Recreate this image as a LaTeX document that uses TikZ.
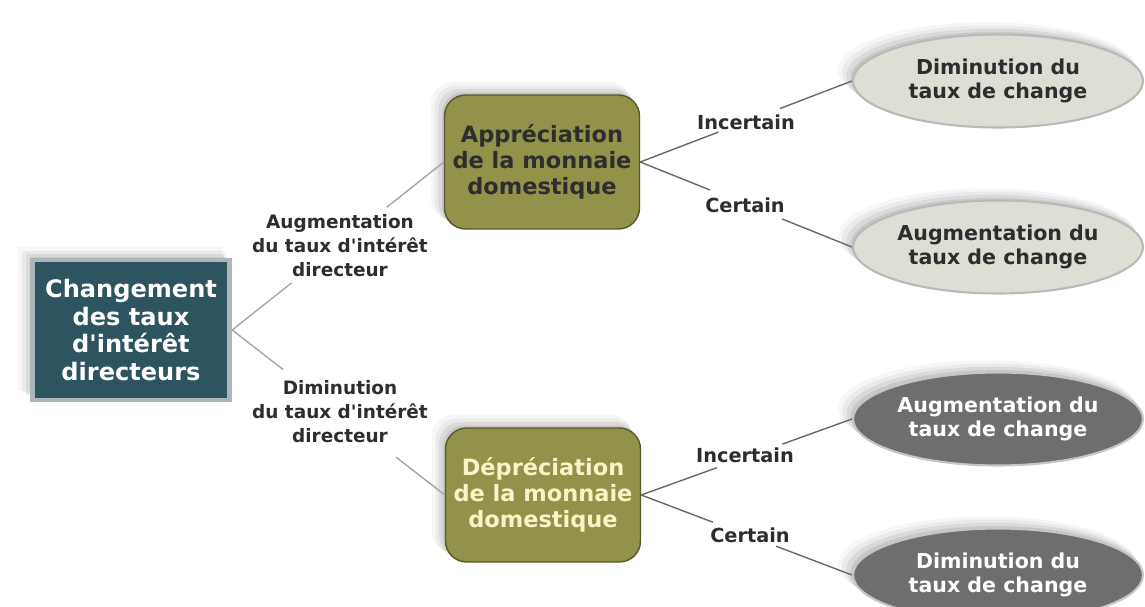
\documentclass[tikz,border=0pt]{standalone}
\usepackage{fontspec}
\setmainfont{DejaVu Sans}
\usepackage{tikz}
\usetikzlibrary{shapes}
\usetikzlibrary{calc}
\usetikzlibrary{shadows}

\definecolor{tealbox}{RGB}{46,84,96}
\definecolor{tealrim}{RGB}{170,184,190}
\definecolor{olivebox}{RGB}{146,146,74}
\definecolor{olivedk}{RGB}{88,88,40}
\definecolor{cream}{RGB}{248,244,200}
\definecolor{pale}{RGB}{222,223,212}
\definecolor{dkgray}{RGB}{110,110,110}
\definecolor{lnkgray}{RGB}{105,105,105}
\definecolor{lblgray}{RGB}{45,45,45}

\tikzstyle{shd}=[drop shadow={shadow xshift=-1.5pt,shadow yshift=1.5pt,opacity=.2},
                 drop shadow={shadow xshift=-3pt,shadow yshift=3pt,opacity=.15,shadow scale=1.01},
                 drop shadow={shadow xshift=-4.5pt,shadow yshift=4.5pt,opacity=.1,shadow scale=1.02},
                 drop shadow={shadow xshift=-6pt,shadow yshift=6pt,opacity=.07,shadow scale=1.03}]
\tikzstyle{rootbox}=[rectangle,draw=tealrim,line width=2.8pt,fill=tealbox,text=white,align=center,minimum width=3.95cm,minimum height=2.8cm,inner sep=0pt,font=\fontsize{13.7}{15.6}\selectfont\bfseries,shd]
\tikzstyle{mbox}=[rectangle,rounded corners=12pt,draw=olivedk,thick,fill=olivebox,align=center,minimum width=3.9cm,minimum height=2.68cm,inner sep=0pt,font=\fontsize{12.8}{14.8}\selectfont\bfseries,shd]
\tikzstyle{res}=[ellipse,line width=1.2pt,align=center,minimum width=5.8cm,minimum height=1.86cm,inner sep=0pt,font=\fontsize{11.7}{14}\selectfont\bfseries,shd]
\tikzstyle{lbl}=[align=center,text=lblgray,inner sep=0pt,font=\fontsize{10.5}{13.6}\selectfont\bfseries]
\tikzstyle{brl}=[lbl,font=\fontsize{11}{13.6}\selectfont\bfseries]
\tikzstyle{lnk}=[draw=lnkgray,line width=.8pt]

\begin{document}
\begin{tikzpicture}[x=0.02cm,y=-0.02cm]
\useasboundingbox (0,0) rectangle (1145,607);

%root
\node[rootbox] (root) at (131,330) {Changement\\des taux\\d\textquotesingle intérêt\\directeurs};

%middle boxes
\node[mbox,text=lblgray] (appr) at (542,162) {Appréciation\\de la monnaie\\domestique};
\node[mbox,text=cream] (depr) at (543,495) {Dépréciation\\de la monnaie\\domestique};

%results
\node[res,draw=gray!55,fill=pale,text=lblgray] (e1) at (998,81) {Diminution du\\taux de change};
\node[res,draw=gray!55,fill=pale,text=lblgray] (e2) at (998,247) {Augmentation du\\taux de change};
\node[res,draw=gray!45,fill=dkgray,text=white] (e3) at (998,419) {Augmentation du\\taux de change};
\node[res,draw=gray!45,fill=dkgray,text=white] (e4) at (998,575) {Diminution du\\taux de change};

%labels
\node[lbl] (up) at (340,246) {Augmentation\\du taux d\textquotesingle intérêt\\directeur};
\node[lbl] (down) at (340,412) {Diminution\\du taux d\textquotesingle intérêt\\directeur};
\node[brl] (inc1) at (746,122) {Incertain};
\node[brl] (cer1) at (745,205) {Certain};
\node[brl] (inc2) at (745,455) {Incertain};
\node[brl] (cer2) at (750,535) {Certain};

%links
\draw[lnk,draw=gray!70] (root.east) -- ($(root.east)!.28!(appr.west)$);
\draw[lnk,draw=gray!70] ($(root.east)!.73!(appr.west)$) -- (appr.west);
\draw[lnk,draw=gray!70] (root.east) -- ($(root.east)!.24!(depr.west)$);
\draw[lnk,draw=gray!70] ($(root.east)!.77!(depr.west)$) -- (depr.west);

\draw[lnk] (appr.east) -- ($(appr.east)!.37!(e1.west)$);
\draw[lnk] ($(appr.east)!.66!(e1.west)$) -- (e1.west);
\draw[lnk] (appr.east) -- ($(appr.east)!.33!(e2.west)$);
\draw[lnk] ($(appr.east)!.67!(e2.west)$) -- (e2.west);

\draw[lnk] (depr.east) -- ($(depr.east)!.36!(e3.west)$);
\draw[lnk] ($(depr.east)!.67!(e3.west)$) -- (e3.west);
\draw[lnk] (depr.east) -- ($(depr.east)!.34!(e4.west)$);
\draw[lnk] ($(depr.east)!.64!(e4.west)$) -- (e4.west);

\end{tikzpicture}
\end{document}
